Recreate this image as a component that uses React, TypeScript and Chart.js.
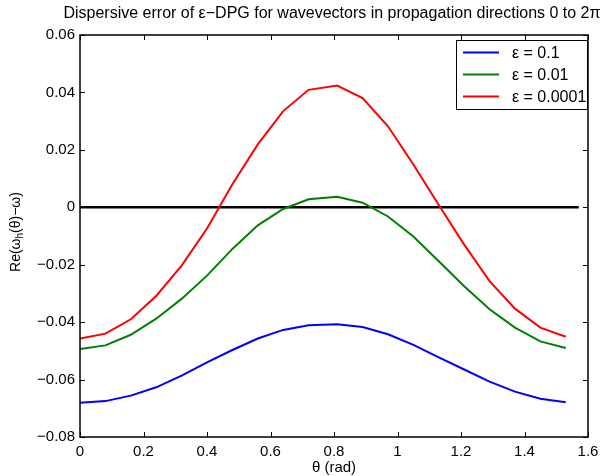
import React, { useEffect, useRef } from 'react';
import { Chart, registerables } from 'chart.js';

Chart.register(...registerables);

const titleText = 'Dispersive error of ε−DPG for wavevectors in propagation directions 0 to 2π';
const xTitle = 'θ (rad)';

const thetaRad = [0, 0.08, 0.16, 0.24, 0.32, 0.40, 0.48, 0.56, 0.64, 0.72, 0.81, 0.89, 0.97, 1.05, 1.13, 1.21, 1.29, 1.37, 1.45, 1.53];
const errEps1e1 = [-0.0681, -0.0675, -0.0656, -0.0627, -0.0586, -0.0540, -0.0497, -0.0457, -0.0427, -0.0411, -0.0407, -0.0417, -0.0442, -0.0479, -0.0523, -0.0565, -0.0607, -0.0642, -0.0667, -0.0679];
const errEps1e2 = [-0.0494, -0.0481, -0.0444, -0.0388, -0.0319, -0.0238, -0.0145, -0.0063, -0.0006, 0.0028, 0.0037, 0.0016, -0.0032, -0.0102, -0.0188, -0.0275, -0.0355, -0.0419, -0.0467, -0.0490];
const errEps1e4 = [-0.0457, -0.0440, -0.0390, -0.0309, -0.0203, -0.0074, 0.0080, 0.0219, 0.0335, 0.0409, 0.0424, 0.0380, 0.0282, 0.0149, 0.0008, -0.0130, -0.0257, -0.0353, -0.0419, -0.0451];
const zeroLineX = [0, 1.5708];
const zeroLineY = [0, 0];

const seriesLabels = ['ε = 0.1', 'ε = 0.01', 'ε = 0.0001'];
const seriesColors = ['#0000ff', '#008000', '#ff0000'];

const xTicks = [0, 0.2, 0.4, 0.6, 0.8, 1.0, 1.2, 1.4, 1.6];
const yTicks = [-0.08, -0.06, -0.04, -0.02, 0, 0.02, 0.04, 0.06];

const FONT = '"Liberation Sans", Arial, Helvetica, sans-serif';

const toPoints = (xs: number[], ys: number[]) => xs.map((x, i) => ({ x, y: ys[i] }));

const fmtY = (v: number) => (Math.abs(v) < 1e-9 ? '0' : v.toFixed(2).replace('-', '−'));
const fmtX = (v: number) => String(parseFloat(v.toFixed(1)));

const matlabPlugin = {
  id: 'matlabFrame',
  beforeDatasetsDraw(chart: any) {
    const { ctx, chartArea } = chart;
    const { left, right, top, bottom } = chartArea;
    const xs = chart.scales.x;
    const ys = chart.scales.y;
    ctx.save();
    ctx.strokeStyle = '#000';
    ctx.lineWidth = 1;
    const tl = 5;
    ctx.beginPath();
    xTicks.forEach((v) => {
      const px = Math.round(xs.getPixelForValue(v)) + 0.5;
      ctx.moveTo(px, bottom);
      ctx.lineTo(px, bottom - tl);
      ctx.moveTo(px, top);
      ctx.lineTo(px, top + tl);
    });
    yTicks.forEach((v) => {
      const py = Math.round(ys.getPixelForValue(v)) + 0.5;
      ctx.moveTo(left, py);
      ctx.lineTo(left + tl, py);
      ctx.moveTo(right, py);
      ctx.lineTo(right - tl, py);
    });
    ctx.stroke();
    ctx.restore();
  },
  afterDraw(chart: any) {
    const { ctx, chartArea } = chart;
    const { left, right, top, bottom } = chartArea;
    ctx.save();
    // box
    ctx.strokeStyle = '#000';
    ctx.lineWidth = 1.5;
    ctx.strokeRect(left, top, right - left, bottom - top);

    // title
    const cx = (left + right) / 2;
    ctx.fillStyle = '#000';
    ctx.font = `16px ${FONT}`;
    ctx.textAlign = 'center';
    ctx.textBaseline = 'middle';
    ctx.fillText(titleText, cx - 2, 14);

    // x title
    ctx.font = `15px ${FONT}`;
    ctx.fillText(xTitle, cx, 468);

    // y title with subscript
    ctx.save();
    const cy = (top + bottom) / 2 - 4;
    ctx.translate(16, cy);
    ctx.rotate(-Math.PI / 2);
    const big = `14px ${FONT}`;
    const small = `10px ${FONT}`;
    const parts = [
      { t: 'Re(ω', f: big, dy: 0 },
      { t: 'h', f: small, dy: 4 },
      { t: '(θ)−ω)', f: big, dy: 0 },
    ];
    let total = 0;
    parts.forEach((p) => {
      ctx.font = p.f;
      total += ctx.measureText(p.t).width;
    });
    let x = -total / 2;
    ctx.textAlign = 'left';
    ctx.textBaseline = 'middle';
    parts.forEach((p) => {
      ctx.font = p.f;
      ctx.fillText(p.t, x, p.dy);
      x += ctx.measureText(p.t).width;
    });
    ctx.restore();

    // legend
    const bw = 131;
    const bh = 69;
    const bx = right - 1 - bw;
    const by = top + 5;
    ctx.fillStyle = '#fff';
    ctx.fillRect(bx, by, bw, bh);
    ctx.strokeStyle = '#000';
    ctx.lineWidth = 1;
    ctx.strokeRect(bx + 0.5, by + 0.5, bw, bh);
    ctx.font = `16px ${FONT}`;
    ctx.textAlign = 'left';
    ctx.textBaseline = 'middle';
    seriesLabels.forEach((lab, i) => {
      const ly = by + 12.5 + i * 22;
      ctx.strokeStyle = seriesColors[i];
      ctx.lineWidth = 2;
      ctx.beginPath();
      ctx.moveTo(bx + 7, ly);
      ctx.lineTo(bx + 43, ly);
      ctx.stroke();
      ctx.fillStyle = '#000';
      ctx.fillText(lab, bx + 56, ly + 1);
    });
    ctx.restore();
  },
};

export default function App() {
  const ref = useRef<HTMLCanvasElement | null>(null);
  useEffect(() => {
    if (!ref.current) return;
    const seriesData = [errEps1e1, errEps1e2, errEps1e4];
    const datasets: any[] = seriesData.map((ys, i) => ({
      label: seriesLabels[i],
      data: toPoints(thetaRad, ys),
      borderColor: seriesColors[i],
      backgroundColor: seriesColors[i],
      borderWidth: 2,
      pointRadius: 0,
      tension: 0,
      fill: false,
    }));
    datasets.push({
      label: 'zero',
      data: toPoints(zeroLineX, zeroLineY),
      borderColor: '#000',
      borderWidth: 2.6,
      pointRadius: 0,
      fill: false,
    });
    const chart = new Chart(ref.current, {
      type: 'line',
      data: { datasets },
      options: {
        animation: false,
        responsive: false,
        devicePixelRatio: 1,
        layout: { padding: { left: 0, top: 35, right: 18, bottom: 0 } },
        plugins: { legend: { display: false }, title: { display: false }, tooltip: { enabled: false } },
        scales: {
          x: {
            type: 'linear',
            min: 0,
            max: 1.6,
            grid: { display: false, drawTicks: false },
            border: { display: false },
            afterBuildTicks: (s: any) => {
              s.ticks = xTicks.map((v) => ({ value: v }));
            },
            afterFit: (s: any) => {
              s.height = 39;
            },
            ticks: {
              autoSkip: false,
              maxRotation: 0,
              padding: 6,
              color: '#000',
              font: { family: FONT, size: 15 },
              callback: (v: any) => fmtX(Number(v)),
            },
          },
          y: {
            type: 'linear',
            min: -0.08,
            max: 0.06,
            grid: { display: false, drawTicks: false },
            border: { display: false },
            afterBuildTicks: (s: any) => {
              s.ticks = yTicks.map((v) => ({ value: v }));
            },
            afterFit: (s: any) => {
              s.width = 80;
            },
            ticks: {
              autoSkip: false,
              padding: 5,
              color: '#000',
              font: { family: FONT, size: 15 },
              callback: (v: any) => fmtY(Number(v)),
            },
          },
        },
      },
      plugins: [matlabPlugin],
    });
    return () => chart.destroy();
  }, []);
  return (
    <div style={{ position: 'absolute', left: 0, top: 0, width: 606, height: 476, background: '#fff' }}>
      <canvas ref={ref} width={606} height={476} />
    </div>
  );
}
